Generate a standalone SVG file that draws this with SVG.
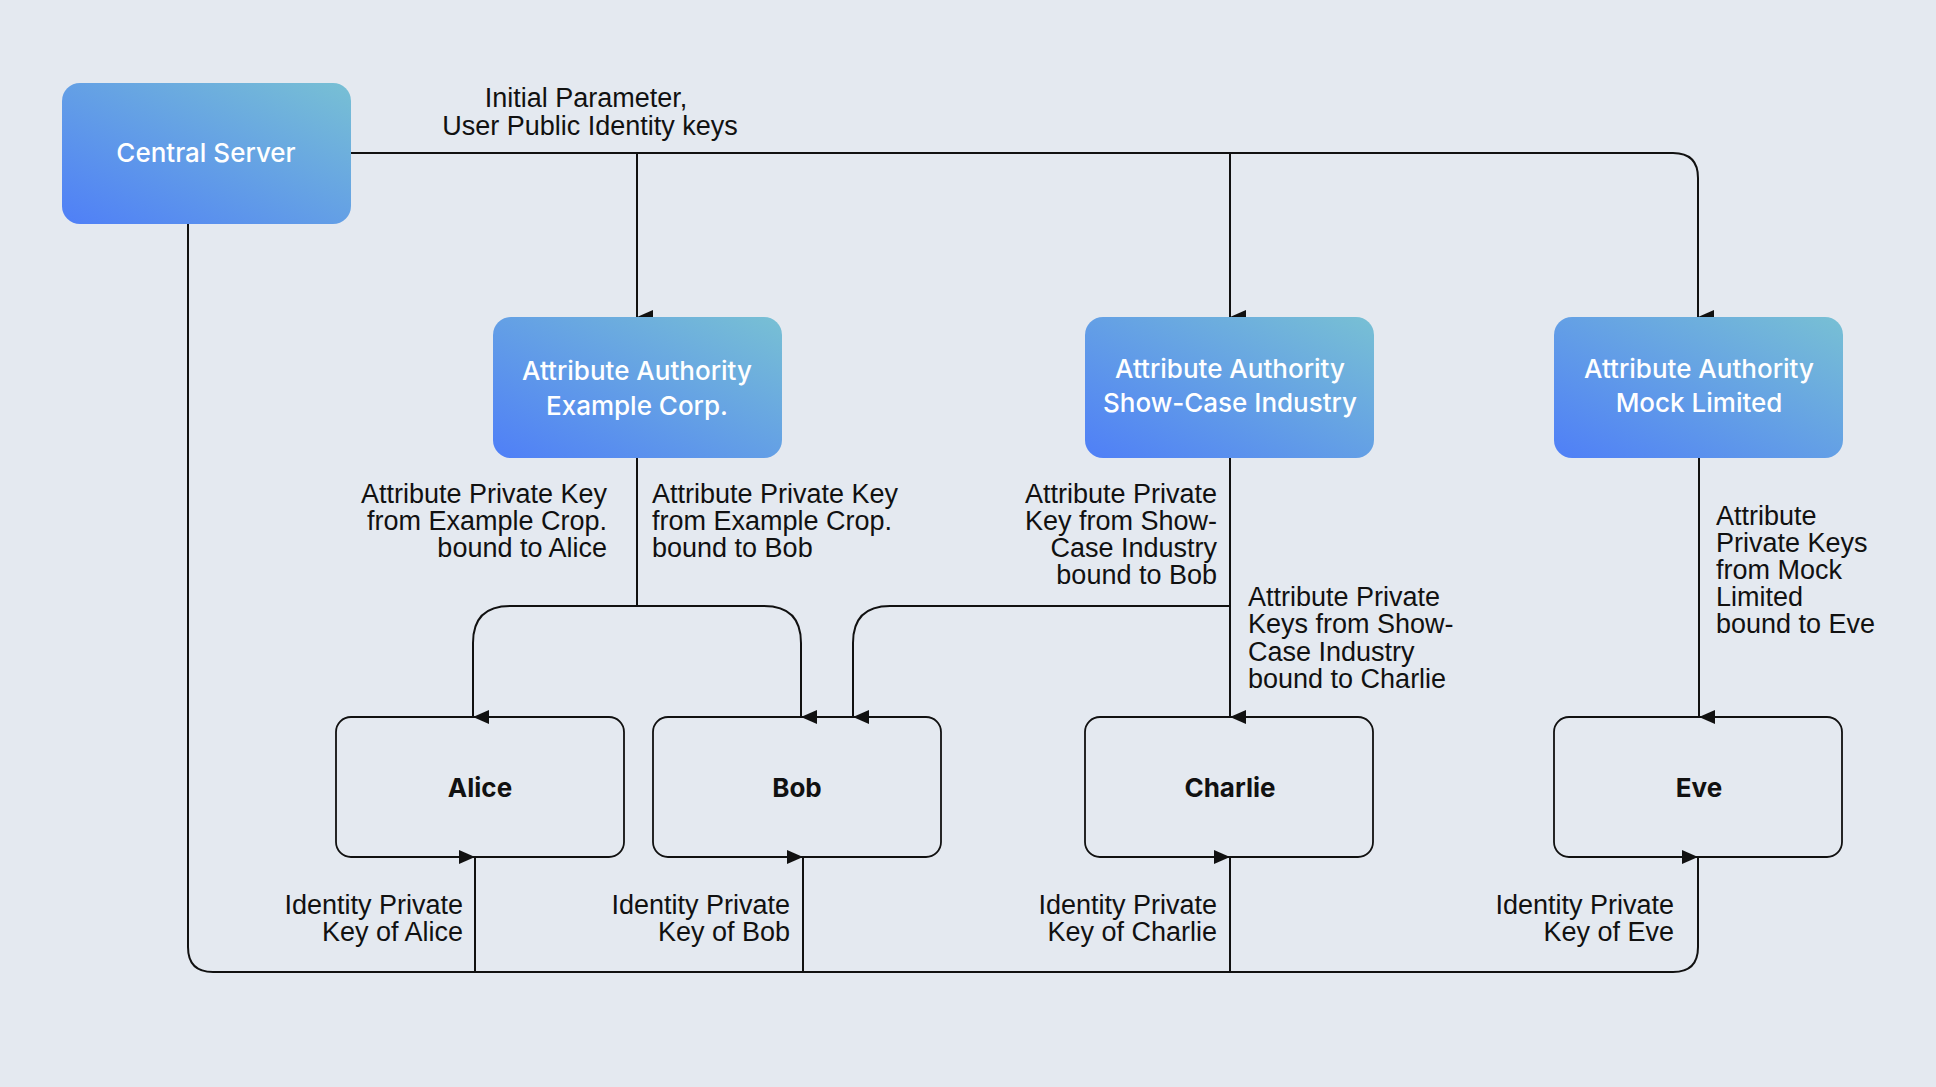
<svg xmlns="http://www.w3.org/2000/svg" width="1936" height="1087" viewBox="0 0 1936 1087">
<defs>
<linearGradient id="g" x1="0" y1="1" x2="1" y2="0">
<stop offset="0" stop-color="#4f7ff7"/>
<stop offset="1" stop-color="#78c0d4"/>
</linearGradient>
<marker id="a" viewBox="0 0 14 16" markerWidth="14" markerHeight="16" refX="7" refY="16" orient="auto-start-reverse" markerUnits="userSpaceOnUse">
<path d="M0,0 L14,0 L7,16 Z" fill="#111"/>
</marker>
</defs>
<style>
.bg{fill:#e4e9f0}
.blue rect{fill:url(#g)}
.blue text{fill:#fff;font-family:Inter,"Liberation Sans",sans-serif;font-size:26px;font-weight:500;text-anchor:middle}
.user rect{fill:none;stroke:#111;stroke-width:1.8}
.user text{fill:#111;font-family:Inter,"Liberation Sans",sans-serif;font-size:26px;font-weight:700;text-anchor:middle}
.c path{fill:none;stroke:#111;stroke-width:2}
.lbl{fill:#111;font-family:"Liberation Sans",sans-serif;font-size:27px}
.r{text-anchor:end}
.m{text-anchor:middle}
</style>
<rect class="bg" x="0" y="0" width="1936" height="1087"/>
<g class="c">
<path d="M351,153 H1673 Q1698,153 1698,178 V317" marker-end="url(#a)"/>
<path d="M637,153 V317" marker-end="url(#a)"/>
<path d="M1230,153 V317" marker-end="url(#a)"/>
<path d="M188,223 V947 Q188,972 213,972 H1673 Q1698,972 1698,947 V857" marker-end="url(#a)"/>
<path d="M475,972 V857" marker-end="url(#a)"/>
<path d="M803,972 V857" marker-end="url(#a)"/>
<path d="M1230,972 V857" marker-end="url(#a)"/>
<path d="M637,458 V606"/>
<path d="M637,606 H510 Q473,606 473,643 V717" marker-end="url(#a)"/>
<path d="M637,606 H764 Q801,606 801,643 V717" marker-end="url(#a)"/>
<path d="M1230,458 V717" marker-end="url(#a)"/>
<path d="M1230,606 H890 Q853,606 853,643 V717" marker-end="url(#a)"/>
<path d="M1699,458 V717" marker-end="url(#a)"/>
</g>
<g id="central" class="blue"><rect x="62" y="83" width="289" height="141" rx="18"/><text x="206" y="162">Central Server</text></g>
<g id="aa-example" class="blue"><rect x="493" y="317" width="289" height="141" rx="18"/><text x="637" y="380">Attribute Authority</text><text x="637" y="415">Example Corp.</text></g>
<g id="aa-showcase" class="blue"><rect x="1085" y="317" width="289" height="141" rx="18"/><text x="1230" y="378">Attribute Authority</text><text x="1230" y="412">Show-Case Industry</text></g>
<g id="aa-mock" class="blue"><rect x="1554" y="317" width="289" height="141" rx="18"/><text x="1699" y="378">Attribute Authority</text><text x="1699" y="412">Mock Limited</text></g>
<g id="alice" class="user"><rect x="336" y="717" width="288" height="140" rx="15"/><text x="480" y="797">Alice</text></g>
<g id="bob" class="user"><rect x="653" y="717" width="288" height="140" rx="15"/><text x="797" y="797">Bob</text></g>
<g id="charlie" class="user"><rect x="1085" y="717" width="288" height="140" rx="15"/><text x="1230" y="797">Charlie</text></g>
<g id="eve" class="user"><rect x="1554" y="717" width="288" height="140" rx="15"/><text x="1699" y="797">Eve</text></g>
<g id="labels" class="lbl">
<text class="m" x="586" y="107">Initial Parameter,</text>
<text class="m" x="590" y="135">User Public Identity keys</text>
<text class="r" x="607" y="503">Attribute Private Key</text>
<text class="r" x="607" y="530">from Example Crop.</text>
<text class="r" x="607" y="557">bound to Alice</text>
<text x="652" y="503">Attribute Private Key</text>
<text x="652" y="530">from Example Crop.</text>
<text x="652" y="557">bound to Bob</text>
<text class="r" x="1217" y="503">Attribute Private</text>
<text class="r" x="1217" y="530">Key from Show-</text>
<text class="r" x="1217" y="557">Case Industry</text>
<text class="r" x="1217" y="584">bound to Bob</text>
<text x="1248" y="606">Attribute Private</text>
<text x="1248" y="633">Keys from Show-</text>
<text x="1248" y="661">Case Industry</text>
<text x="1248" y="688">bound to Charlie</text>
<text x="1716" y="525">Attribute</text>
<text x="1716" y="552">Private Keys</text>
<text x="1716" y="579">from Mock</text>
<text x="1716" y="606">Limited</text>
<text x="1716" y="633">bound to Eve</text>
<text class="r" x="463" y="914">Identity Private</text>
<text class="r" x="463" y="941">Key of Alice</text>
<text class="r" x="790" y="914">Identity Private</text>
<text class="r" x="790" y="941">Key of Bob</text>
<text class="r" x="1217" y="914">Identity Private</text>
<text class="r" x="1217" y="941">Key of Charlie</text>
<text class="r" x="1674" y="914">Identity Private</text>
<text class="r" x="1674" y="941">Key of Eve</text>
</g>
</svg>
